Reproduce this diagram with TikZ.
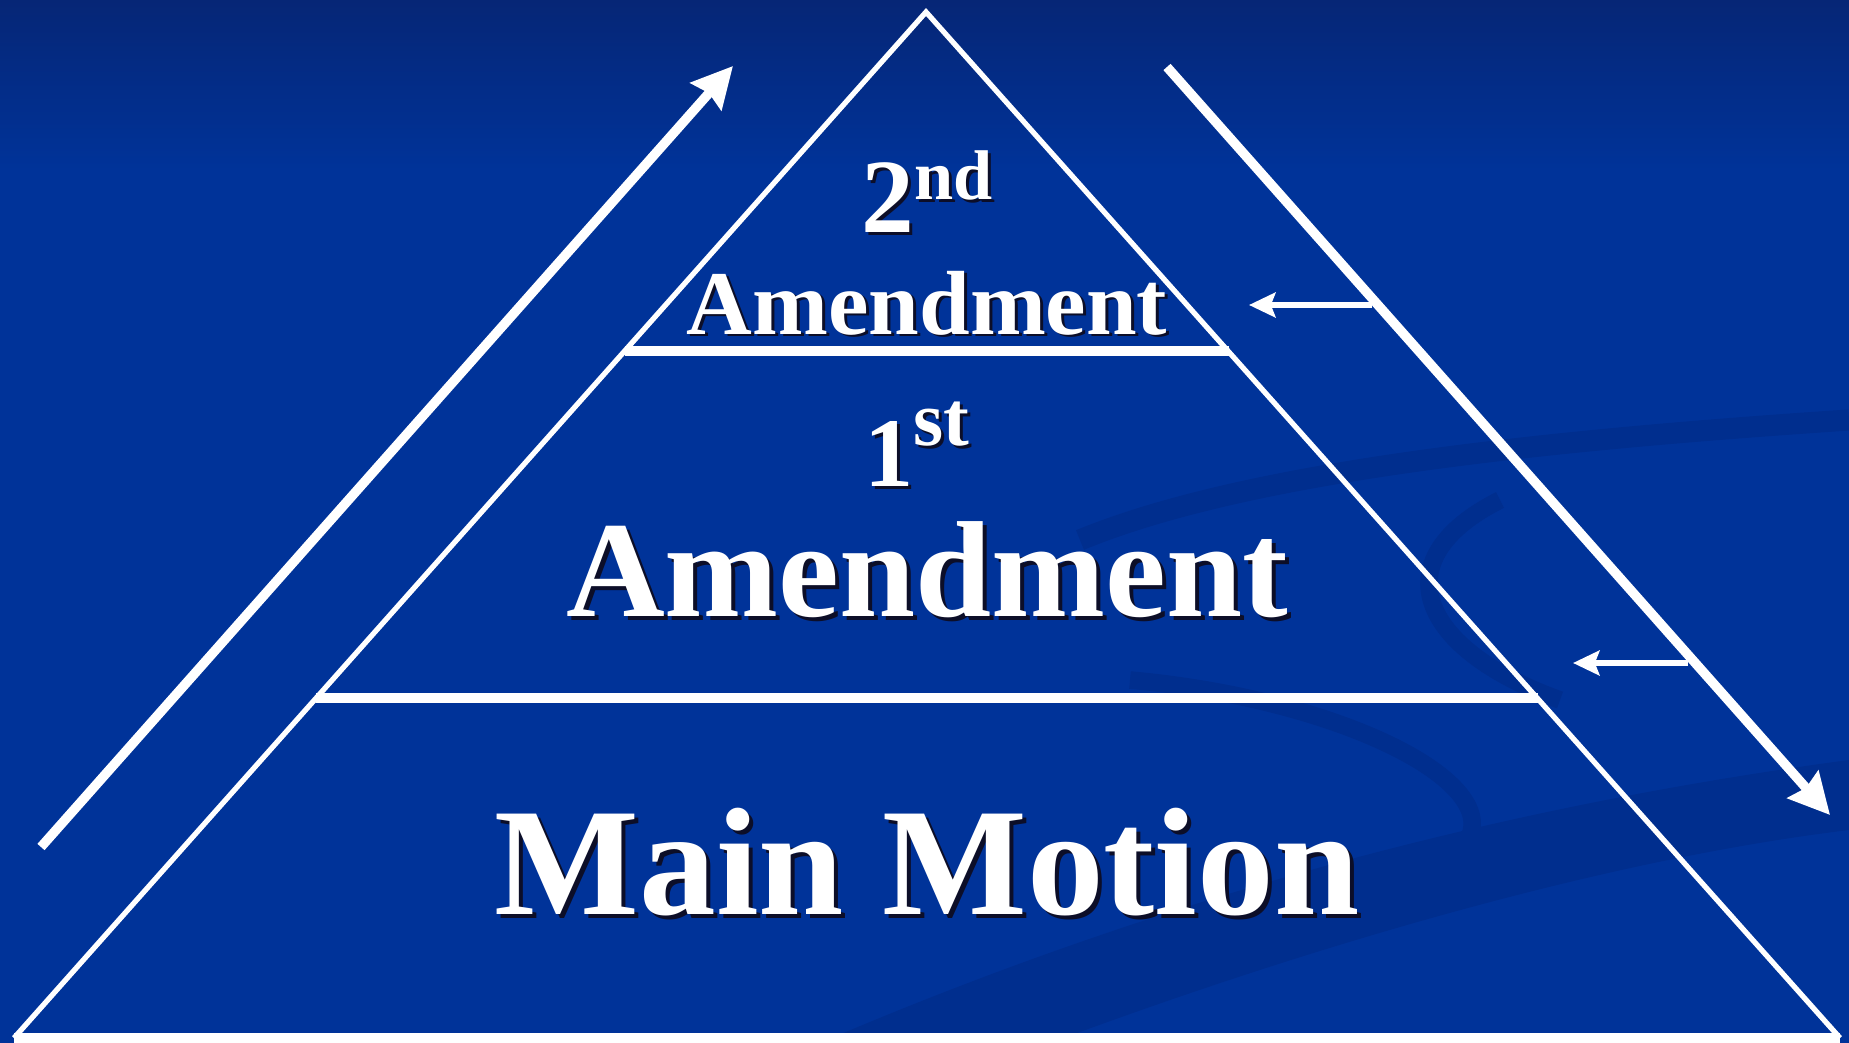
\documentclass[tikz,border=0pt]{standalone}
\usepackage{fontspec}
\setmainfont{Liberation Serif}
\usetikzlibrary{arrows.meta}
\definecolor{bgblue}{RGB}{0,51,153}
\definecolor{bgtop}{RGB}{6,38,118}
\definecolor{swoosh}{RGB}{0,46,142}
\definecolor{shadowc}{RGB}{12,14,40}
\tikzset{
  outline/.style={white, line width=1.5pt, line join=miter},
  divider/.style={white, line width=2.6pt},
  bigarrow/.style={white, line width=2.7pt, -{Stealth[length=11.5pt,width=11.5pt,inset=1.2pt]}},
  smallarrow/.style={white, line width=1.7pt, -{Stealth[length=7.5pt,width=7pt,inset=1.3pt]}},
  lbl/.style={text=white, anchor=base, inner sep=0pt, font=\bfseries},
  shd/.style={text=shadowc, anchor=base, inner sep=0pt, font=\bfseries},
}
\newcommand{\fsz}[1]{\fontsize{#1}{#1}\selectfont}
\begin{document}
\begin{tikzpicture}[x=0.01cm,y=-0.01cm]
\useasboundingbox (0,0) rectangle (1849,1043);
% background
\fill[bgblue] (0,0) rectangle (1849,1043);
\shade[top color=bgtop, bottom color=bgblue] (0,0) rectangle (1849,170);
% faint background swooshes
\fill[swoosh] (820,1043) .. controls (1200,880) and (1550,800) .. (1849,760)
  -- (1849,830) .. controls (1600,860) and (1300,950) .. (1050,1043) -- cycle;
\draw[swoosh, line width=6pt] (1080,540) .. controls (1250,470) and (1550,440) .. (1849,420);
\draw[swoosh, line width=5pt] (1500,500) .. controls (1380,560) and (1420,650) .. (1560,700);
\draw[swoosh, line width=5pt] (1130,680) .. controls (1350,700) and (1520,790) .. (1460,850);
% geometry
\coordinate (apex) at (926,12);
\coordinate (bl) at (14,1038);
\coordinate (br) at (1840,1038);
\coordinate (d1l) at (625,351);
\coordinate (d1r) at (1229,351);
\coordinate (d2l) at (316,698);
\coordinate (d2r) at (1538,698);
\draw[outline] (bl) -- (apex) -- (br);
\draw[divider] (d1l) -- (d1r);
\draw[divider] (d2l) -- (d2r);
\draw[divider] (bl) -- (br);
% big arrows
\coordinate (la1) at (41,847);
\coordinate (la2) at (733,66);
\coordinate (ra1) at (1167,67);
\coordinate (ra2) at (1830,815);
\draw[bigarrow] (la1) -- (la2);
\draw[bigarrow] (ra1) -- (ra2);
% small arrows
\coordinate (s1a) at (1372,305);
\coordinate (s1b) at (1249,305);
\coordinate (s2a) at (1688,663);
\coordinate (s2b) at (1573,663);
\draw[smallarrow] (s1a) -- (s1b);
\draw[smallarrow] (s2a) -- (s2b);
% texts
\node[shd] (t2s) at (930,236) {\fsz{30pt}2\raisebox{9.4pt}{\fsz{20pt}nd}};
\node[lbl] (t2) at (927,233) {\fsz{30pt}2\raisebox{9.4pt}{\fsz{20pt}nd}};
\node[shd] (a2s) at (930,337) {\fsz{25.9pt}Amendment};
\node[lbl] (a2) at (927,334) {\fsz{25.9pt}Amendment};
\node[shd] (t1s) at (920,489) {\fsz{28pt}1\raisebox{11.4pt}{\fsz{22pt}st}};
\node[lbl] (t1) at (917,486) {\fsz{28pt}1\raisebox{11.4pt}{\fsz{22pt}st}};
\node[shd] (a1s) at (931,620) {\fsz{38.9pt}Amendment};
\node[lbl] (a1) at (927,616) {\fsz{38.9pt}Amendment};
\node[shd] (mms) at (931,918) {\fsz{43.6pt}Main Motion};
\node[lbl] (mm) at (927,914) {\fsz{43.6pt}Main Motion};
\end{tikzpicture}
\end{document}
